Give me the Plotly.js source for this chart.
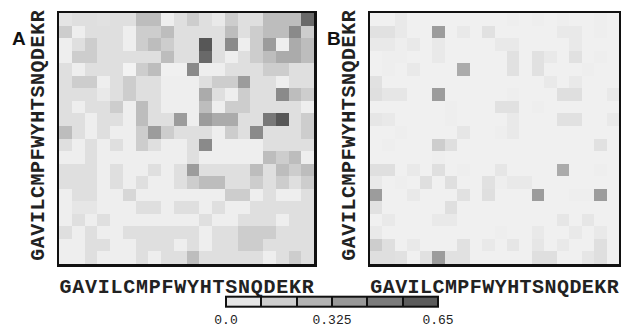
<!DOCTYPE html>
<html>
<head>
<meta charset="utf-8">
<script src="https://cdn.plot.ly/plotly-3.0.1.min.js"></script>
<style>html,body{margin:0;padding:0;background:#fff;}#chart{width:621px;height:328px;}</style>
</head>
<body>
<div id="chart"></div>
<script>
// Amino acid order, columns left to right
var xLabels = ['G','A','V','I','L','C','M','P','F','W','Y','H','T','S','N','Q','D','E','K','R'];
// Rows top to bottom
var yLabels = ['R','K','E','D','Q','N','S','T','H','Y','W','F','P','M','C','L','I','V','A','G'];

var zA = [
  [0.06,0.08,0.08,0.07,0.08,0.08,0.21,0.21,0.02,0.08, 0.15,0.08,0.04,0.15,0.08,0.08,0.21,0.21,0.21,0.54],
  [0.15,0.02,0.08,0.08,0.08,0.02,0.15,0.15,0.21,0.08, 0.08,0.08,0.08,0.21,0.08,0.15,0.21,0.21,0.41,0.15],
  [0.02,0.08,0.15,0.08,0.08,0.02,0.15,0.21,0.15,0.08, 0.08,0.61,0.08,0.41,0.02,0.15,0.34,0.02,0.28,0.21],
  [0.02,0.15,0.15,0.08,0.08,0.08,0.08,0.08,0.21,0.08, 0.08,0.54,0.08,0.02,0.08,0.15,0.21,0.28,0.28,0.21],
  [0.08,0.02,0.08,0.08,0.08,0.00,0.15,0.21,0.01,0.01, 0.41,0.02,0.02,0.08,0.08,0.08,0.15,0.15,0.08,0.08],
  [0.08,0.15,0.15,0.02,0.08,0.15,0.08,0.08,0.02,0.02, 0.02,0.08,0.15,0.15,0.34,0.08,0.08,0.02,0.08,0.08],
  [0.08,0.08,0.08,0.04,0.08,0.15,0.08,0.08,0.02,0.02, 0.02,0.28,0.08,0.02,0.15,0.08,0.08,0.41,0.21,0.15],
  [0.08,0.02,0.08,0.08,0.15,0.02,0.21,0.08,0.02,0.02, 0.02,0.21,0.02,0.15,0.15,0.08,0.08,0.08,0.08,0.02],
  [0.08,0.08,0.02,0.08,0.08,0.02,0.21,0.08,0.08,0.34, 0.02,0.34,0.28,0.28,0.08,0.08,0.48,0.61,0.08,0.15],
  [0.21,0.08,0.02,0.08,0.02,0.02,0.15,0.34,0.15,0.08, 0.08,0.08,0.02,0.15,0.08,0.41,0.08,0.08,0.08,0.15],
  [0.08,0.02,0.08,0.02,0.08,0.02,0.15,0.08,0.02,0.02, 0.08,0.41,0.02,0.02,0.02,0.02,0.08,0.08,0.08,0.08],
  [0.02,0.02,0.08,0.02,0.02,0.02,0.02,0.02,0.02,0.02, 0.08,0.02,0.02,0.02,0.02,0.02,0.21,0.15,0.21,0.02],
  [0.08,0.08,0.08,0.02,0.08,0.02,0.02,0.08,0.02,0.08, 0.34,0.08,0.08,0.08,0.08,0.21,0.08,0.21,0.15,0.21],
  [0.08,0.08,0.08,0.02,0.08,0.02,0.08,0.02,0.02,0.08, 0.15,0.21,0.21,0.08,0.08,0.15,0.08,0.15,0.08,0.15],
  [0.02,0.08,0.08,0.02,0.02,0.11,0.02,0.02,0.02,0.02, 0.02,0.02,0.02,0.15,0.15,0.02,0.08,0.02,0.02,0.08],
  [0.02,0.05,0.05,0.02,0.02,0.02,0.08,0.08,0.02,0.08, 0.08,0.02,0.08,0.02,0.02,0.08,0.08,0.08,0.08,0.08],
  [0.02,0.08,0.02,0.08,0.02,0.02,0.02,0.02,0.02,0.02, 0.02,0.08,0.02,0.02,0.08,0.08,0.08,0.02,0.08,0.08],
  [0.08,0.02,0.08,0.02,0.02,0.08,0.08,0.08,0.08,0.08, 0.08,0.02,0.08,0.08,0.15,0.15,0.15,0.08,0.08,0.08],
  [0.02,0.02,0.08,0.08,0.02,0.02,0.08,0.08,0.08,0.02, 0.08,0.02,0.08,0.08,0.15,0.15,0.08,0.08,0.08,0.08],
  [0.02,0.02,0.08,0.02,0.02,0.02,0.08,0.02,0.08,0.08, 0.21,0.08,0.08,0.08,0.08,0.08,0.02,0.08,0.15,0.08]
];

var zB = [
  [0.01,0.01,0.04,0.01,0.01,0.01,0.01,0.01,0.01,0.01, 0.01,0.02,0.01,0.02,0.01,0.02,0.01,0.01,0.02,0.01],
  [0.07,0.07,0.04,0.01,0.01,0.34,0.01,0.04,0.01,0.07, 0.01,0.01,0.01,0.01,0.01,0.04,0.04,0.01,0.02,0.01],
  [0.04,0.04,0.02,0.04,0.01,0.04,0.01,0.01,0.01,0.01, 0.04,0.04,0.01,0.01,0.01,0.01,0.04,0.01,0.01,0.01],
  [0.01,0.02,0.02,0.01,0.01,0.04,0.01,0.01,0.01,0.01, 0.01,0.07,0.01,0.07,0.04,0.01,0.07,0.01,0.02,0.01],
  [0.01,0.02,0.01,0.04,0.01,0.01,0.01,0.28,0.01,0.01, 0.01,0.07,0.01,0.07,0.01,0.01,0.01,0.02,0.01,0.01],
  [0.07,0.01,0.01,0.01,0.01,0.01,0.01,0.01,0.01,0.01, 0.01,0.01,0.01,0.01,0.04,0.01,0.04,0.01,0.01,0.01],
  [0.08,0.05,0.05,0.01,0.01,0.34,0.01,0.01,0.01,0.01, 0.01,0.02,0.01,0.01,0.01,0.08,0.08,0.01,0.01,0.04],
  [0.01,0.01,0.01,0.01,0.01,0.01,0.02,0.01,0.01,0.01, 0.07,0.07,0.01,0.02,0.01,0.01,0.01,0.01,0.01,0.01],
  [0.05,0.04,0.01,0.01,0.01,0.01,0.02,0.01,0.01,0.01, 0.01,0.04,0.01,0.01,0.01,0.07,0.07,0.01,0.01,0.04],
  [0.01,0.01,0.02,0.01,0.01,0.01,0.01,0.05,0.01,0.01, 0.02,0.04,0.01,0.01,0.01,0.01,0.01,0.01,0.01,0.01],
  [0.01,0.02,0.01,0.01,0.01,0.15,0.08,0.01,0.01,0.01, 0.01,0.01,0.01,0.01,0.01,0.01,0.01,0.01,0.07,0.01],
  [0.01,0.01,0.01,0.01,0.01,0.02,0.01,0.01,0.01,0.01, 0.01,0.01,0.01,0.01,0.01,0.01,0.01,0.01,0.01,0.01],
  [0.08,0.08,0.01,0.04,0.01,0.08,0.01,0.02,0.01,0.01, 0.05,0.01,0.01,0.01,0.01,0.28,0.01,0.01,0.02,0.01],
  [0.04,0.01,0.02,0.01,0.08,0.01,0.08,0.01,0.01,0.07, 0.02,0.04,0.04,0.01,0.01,0.01,0.01,0.01,0.01,0.01],
  [0.34,0.01,0.01,0.04,0.01,0.01,0.01,0.07,0.01,0.08, 0.01,0.01,0.01,0.34,0.01,0.01,0.02,0.02,0.34,0.01],
  [0.07,0.01,0.01,0.01,0.01,0.01,0.08,0.01,0.01,0.01, 0.01,0.01,0.01,0.01,0.01,0.01,0.01,0.01,0.01,0.01],
  [0.01,0.04,0.01,0.01,0.01,0.04,0.04,0.01,0.01,0.01, 0.01,0.01,0.01,0.01,0.01,0.05,0.01,0.05,0.01,0.01],
  [0.04,0.01,0.01,0.01,0.01,0.01,0.01,0.01,0.01,0.01, 0.02,0.01,0.01,0.04,0.01,0.01,0.04,0.01,0.04,0.01],
  [0.15,0.08,0.01,0.04,0.01,0.01,0.01,0.07,0.01,0.04, 0.01,0.05,0.01,0.05,0.01,0.04,0.01,0.01,0.08,0.01],
  [0.08,0.08,0.07,0.01,0.07,0.34,0.07,0.07,0.01,0.01, 0.01,0.01,0.01,0.08,0.08,0.01,0.01,0.05,0.08,0.01]
];

// Colour bar scale
var cbRange = [0, 0.65];
var cbTickVals = [0, 0.1083, 0.2167, 0.325, 0.4333, 0.5417, 0.65];
var cbTickText = ['0.0', '', '', '0.325', '', '', '0.65'];

var heatScale = [[0, '#f3f3f3'], [1, '#4d4d4d']];
var cbColors = ['#e6e6e6', '#cecece', '#b3b3b3', '#989898', '#7b7b7b', '#5c5c5c'];
var discrete = [];
for (var i = 0; i < cbColors.length; i++) {
  discrete.push([i / cbColors.length, cbColors[i]]);
  discrete.push([(i + 1) / cbColors.length, cbColors[i]]);
}

var W = 621, H = 328;
function px(x) { return x / W; }
function py(y) { return 1 - y / H; }

var tickFont = {family: 'Liberation Mono, Courier New, monospace', size: 20, color: '#222', weight: 700};

var traces = [
  {type: 'heatmap', x: xLabels, y: yLabels, z: zA, xaxis: 'x', yaxis: 'y',
   colorscale: heatScale, zmin: cbRange[0], zmax: cbRange[1], showscale: false, hoverinfo: 'skip'},
  {type: 'heatmap', x: xLabels, y: yLabels, z: zB, xaxis: 'x2', yaxis: 'y2',
   colorscale: heatScale, zmin: cbRange[0], zmax: cbRange[1], showscale: false, hoverinfo: 'skip'},
  {type: 'heatmap', z: [cbRange], xaxis: 'x3', yaxis: 'y3', opacity: 0, hoverinfo: 'skip',
   colorscale: discrete, zmin: cbRange[0], zmax: cbRange[1], showscale: true,
   colorbar: {orientation: 'h', x: px(332), xanchor: 'center', y: py(318), yanchor: 'middle',
     len: 212 / W, lenmode: 'fraction', thickness: 10, thicknessmode: 'pixels',
     outlinewidth: 2, outlinecolor: '#111', xpad: 0, ypad: 0, borderwidth: 0,
     tickmode: 'array', tickvals: cbTickVals, ticktext: cbTickText,
     ticks: 'inside', ticklen: 10, tickwidth: 2, tickcolor: '#111',
     tickfont: {family: 'Liberation Mono, Courier New, monospace', size: 13, color: '#222'}}}
];

function xax(dom, anchor) {
  return {domain: dom, anchor: anchor, type: 'category', showgrid: false, zeroline: false,
    showline: true, mirror: true, linewidth: 2.5, linecolor: '#111', ticks: '',
    tickmode: 'array', tickvals: xLabels, ticktext: xLabels, tickangle: 0,
    tickfont: tickFont, ticklabelstandoff: 2, fixedrange: true};
}
function yax(dom, anchor) {
  return {domain: dom, anchor: anchor, type: 'category', autorange: 'reversed', showgrid: false,
    zeroline: false, showline: true, mirror: true, linewidth: 2.5, linecolor: '#111', ticks: '',
    tickmode: 'array', tickvals: yLabels, ticktext: yLabels,
    tickangle: -90, tickfont: tickFont, ticklabelstandoff: 5, fixedrange: true};
}

var layout = {
  width: W, height: H, margin: {l: 0, r: 0, t: 0, b: 0, autoexpand: false},
  paper_bgcolor: '#fff', plot_bgcolor: '#fff', showlegend: false,
  xaxis: xax([px(59), px(314)], 'y'),
  yaxis: yax([py(264), py(13)], 'x'),
  xaxis2: xax([px(370), px(619)], 'y2'),
  yaxis2: yax([py(264), py(13)], 'x2'),
  xaxis3: {domain: [0, 0.01], anchor: 'y3', visible: false},
  yaxis3: {domain: [0, 0.01], anchor: 'x3', visible: false},
  annotations: [
    {text: '<b>A</b>', x: px(10), y: py(26), xref: 'paper', yref: 'paper', xanchor: 'left', showarrow: false,
     font: {family: 'Liberation Sans, Arial, sans-serif', size: 19, color: '#111'}},
    {text: '<b>B</b>', x: px(325), y: py(26), xref: 'paper', yref: 'paper', xanchor: 'left', showarrow: false,
     font: {family: 'Liberation Sans, Arial, sans-serif', size: 19, color: '#111'}}
  ]
};

Plotly.newPlot('chart', traces, layout, {staticPlot: true, displayModeBar: false});
</script>
</body>
</html>
